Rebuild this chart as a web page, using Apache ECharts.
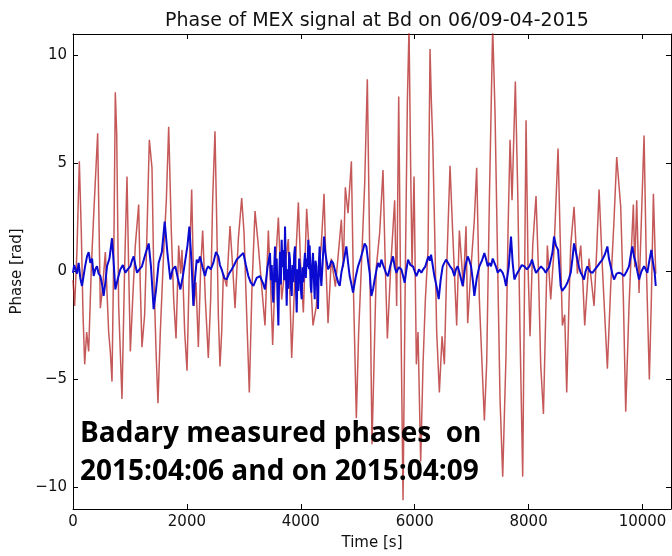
<!DOCTYPE html>
<html>
<head>
<meta charset="utf-8">
<title>Phase of MEX signal at Bd</title>
<script src="https://cdn.jsdelivr.net/npm/echarts@6/dist/echarts.min.js"></script>
<style>
  html, body { margin: 0; padding: 0; background: #fff; }
  #chart { width: 672px; height: 556px; }
</style>
</head>
<body>
<div id="chart"></div>
<script>
// tick values
const xTicks = [0, 2000, 4000, 6000, 8000, 10000]
const yTicks = [-10, -5, 0, 5, 10]

// 2015:04:06 scan, [time s, phase rad]
const redPhase = [
  [0,-0.4],[29,-1.6],[70,1.0],[111,5.1],[146,1.8],[176,-2.0],[205,-4.3],[240,-2.8],[275,-3.7],[322,0.2],
  [363,2.6],[433,6.4],[456,2.4],[480,-1.7],[521,-0.7],[568,0.9],[626,-2.8],[655,-3.7],[685,-5.1],[720,1.8],
  [743,8.3],[767,6.4],[802,-1.6],[860,-5.9],[907,0.2],[948,4.4],[977,0.2],[1007,-3.7],[1048,-1.3],[1094,1.2],
  [1153,3.1],[1182,-0.7],[1211,-3.5],[1258,-2.0],[1299,1.8],[1340,6.1],[1387,4.8],[1416,0.2],[1457,-3.6],[1492,-6.1],
  [1533,-2.8],[1592,0.9],[1639,3.3],[1680,6.7],[1727,1.8],[1768,-1.3],[1809,-3.1],[1855,1.2],[1890,-0.1],[1914,1.0],
  [1961,-2.8],[2002,-4.6],[2043,0.2],[2084,3.8],[2125,-1.6],[2160,-0.5],[2201,-3.5],[2242,0.2],[2277,1.9],[2324,-1.3],
  [2376,-4.0],[2417,-1.3],[2452,3.3],[2493,6.5],[2523,2.4],[2552,-2.0],[2581,-4.4],[2611,-2.8],[2640,-0.1],[2698,-0.7],
  [2757,2.1],[2804,0.2],[2845,-1.7],[2903,1.5],[2962,3.4],[3003,1.8],[3050,-2.0],[3096,-5.6],[3143,-0.7],[3196,2.8],
  [3254,1.2],[3313,-0.7],[3371,-2.5],[3430,1.9],[3471,-0.7],[3506,-3.4],[3553,0.2],[3606,2.5],[3664,-1.3],[3723,0.2],
  [3781,1.5],[3840,-4.0],[3898,-0.1],[3957,3.2],[3998,0.2],[4045,-1.9],[4103,2.9],[4162,0.2],[4214,-2.5],[4273,-1.6],
  [4314,-0.1],[4361,1.3],[4408,3.6],[4443,0.2],[4478,-2.4],[4536,0.6],[4607,-0.7],[4665,1.0],[4712,2.4],[4747,0.2],
  [4782,3.9],[4829,2.7],[4888,5.1],[4928,-1.3],[4975,-6.8],[5016,-2.8],[5063,0.2],[5122,4.1],[5168,8.9],[5209,1.0],
  [5250,-8.0],[5285,-4.3],[5326,0.2],[5385,1.8],[5443,4.7],[5484,0.2],[5520,-3.1],[5578,0.2],[5648,3.3],[5683,-1.6],
  [5719,8.1],[5754,-1.3],[5795,-10.6],[5836,0.2],[5871,7.9],[5900,11.3],[5929,4.8],[5953,0.2],[5988,4.4],[6029,-4.3],
  [6058,-2.8],[6105,-8.8],[6146,-4.3],[6187,-1.3],[6234,1.0],[6269,10.3],[6292,7.9],[6316,6.1],[6351,1.8],[6386,-2.8],
  [6433,-5.6],[6480,-3.0],[6521,-4.3],[6562,0.2],[6620,4.9],[6667,1.8],[6737,-2.5],[6784,1.9],[6854,-0.7],[6901,2.1],
  [6930,-2.4],[6989,0.2],[7047,2.4],[7088,4.8],[7135,-1.3],[7182,-4.3],[7223,-6.9],[7264,-4.2],[7311,3.3],[7369,11.3],
  [7410,7.4],[7457,0.2],[7498,-5.9],[7545,-9.5],[7603,-3.9],[7638,1.8],[7674,6.1],[7709,3.3],[7767,8.8],[7808,3.8],
  [7849,-2.8],[7896,-9.5],[7931,0.2],[7955,7.0],[7990,0.2],[8025,-3.0],[8072,1.2],[8130,3.5],[8171,0.2],[8212,-4.3],
  [8260,-6.6],[8329,1.2],[8388,-1.3],[8446,1.0],[8481,3.3],[8517,5.7],[8552,1.8],[8593,-2.5],[8634,-2.0],[8669,-5.6],
  [8710,-1.3],[8739,1.2],[8798,3.0],[8856,-0.1],[8915,1.2],[8956,-0.7],[8985,-2.5],[9061,0.6],[9149,-1.6],[9196,1.0],
  [9237,3.8],[9295,0.2],[9336,-2.0],[9383,-4.5],[9441,-0.7],[9500,2.4],[9547,5.3],[9617,3.0],[9664,-1.3],[9705,-6.5],
  [9763,-1.6],[9804,1.0],[9839,3.1],[9863,0.2],[9898,3.3],[9939,-1.0],[9980,2.4],[10027,6.3],[10068,0.2],[10120,-5.0],
  [10155,-1.3],[10191,3.6],[10232,-0.1]
]

// 2015:04:09 scan, [time s, phase rad]
const bluePhase = [
  [0,-0.06],[20,0.3],[41,0.24],[70,-0.1],[99,0.4],[128,-0.3],[158,-0.67],[180,-0.3],[210,0.2],[246,0.7],
  [275,0.9],[304,0.4],[335,0.6],[363,-0.21],[392,0.1],[421,0.24],[450,-0.1],[480,-0.21],[510,-0.6],[538,-1.13],
  [568,-0.5],[597,0.24],[640,0.6],[685,1.54],[712,0.5],[743,-0.83],[790,-0.3],[831,0.09],[875,0.3],[919,-0.06],
  [960,0.1],[1007,0.24],[1035,0.5],[1065,0.7],[1095,0.3],[1124,-0.06],[1165,0.1],[1211,0.24],[1270,0.8],[1329,1.3],
  [1370,0.2],[1416,-1.74],[1460,-0.8],[1504,0.4],[1560,0.9],[1610,2.31],[1660,0.8],[1709,-0.37],[1750,0.1],[1797,0.24],
  [1840,-0.3],[1885,-0.83],[1930,-0.2],[1973,0.55],[2010,1.2],[2043,2.08],[2080,0.5],[2113,-1.59],[2140,-0.4],[2172,0.55],
  [2200,0.4],[2230,0.7],[2275,0.2],[2318,-0.21],[2345,0.1],[2376,0.24],[2420,0.1],[2464,0.4],[2510,0.9],[2552,0.7],
  [2580,0.3],[2611,0.09],[2655,-0.3],[2698,-0.37],[2740,-0.1],[2786,0.09],[2830,0.3],[2874,0.55],[2930,0.7],[2991,0.86],
  [3035,0.3],[3079,-0.21],[3120,-0.5],[3167,-0.67],[3225,-0.3],[3284,-0.21],[3330,-0.5],[3371,-0.83],[3415,0.2],[3459,0.86],
  [3475,-0.4],[3490,0.3],[3504,-1.0],[3518,-1.44],[3533,0.2],[3547,1.16],[3562,-0.5],[3577,0.6],[3591,-1.2],[3606,-2.5],
  [3620,-0.3],[3635,0.9],[3650,-0.6],[3664,1.47],[3679,0.2],[3694,1.0],[3708,-0.4],[3723,2.08],[3737,0.3],[3752,-1.59],
  [3766,0.1],[3781,-0.8],[3796,0.9],[3810,0.55],[3825,-0.7],[3840,-1.13],[3854,0.3],[3869,-0.5],[3884,0.8],[3898,1.16],
  [3913,-0.6],[3928,-1.9],[3942,0.1],[3957,-0.9],[3971,0.6],[3986,0.24],[4000,-0.8],[4015,-1.28],[4030,0.2],[4045,-0.5],
  [4060,0.4],[4074,0.86],[4088,-0.3],[4103,0.6],[4117,0.2],[4132,1.47],[4145,0.1],[4156,1.2],[4173,-0.67],[4185,-0.98],
  [4200,0.3],[4214,0.86],[4230,-0.4],[4244,-1.28],[4258,0.5],[4273,0.24],[4288,-0.9],[4302,-1.74],[4317,0.4],[4331,1.16],
  [4346,-0.1],[4361,-0.67],[4385,0.5],[4408,1.62],[4430,0.9],[4449,0.55],[4478,0.1],[4507,0.24],[4536,0.5],[4566,0.4],
  [4595,0.1],[4624,-0.21],[4655,-0.5],[4683,-0.67],[4712,-0.06],[4755,0.5],[4800,1.16],[4830,0.4],[4858,-0.21],[4890,-0.6],
  [4917,-0.98],[4960,-0.3],[5005,0.24],[5050,0.6],[5092,1.0],[5120,1.3],[5151,1.16],[5180,0.5],[5209,-0.06],[5239,-1.13],
  [5270,-0.8],[5297,-0.37],[5330,0.1],[5356,0.4],[5385,0.2],[5414,0.55],[5445,0.3],[5473,0.24],[5500,-0.1],[5531,-0.21],
  [5575,0.3],[5619,0.7],[5650,0.2],[5678,-0.06],[5720,0.2],[5766,0.09],[5795,-0.2],[5824,-0.52],[5855,0.1],[5883,0.55],
  [5925,0.3],[5970,0.24],[6000,0.0],[6029,-0.21],[6075,0.1],[6117,-0.06],[6150,0.1],[6187,0.24],[6215,0.5],[6245,0.7],
  [6265,0.5],[6287,0.78],[6315,0.3],[6345,-0.21],[6385,-0.7],[6421,-1.28],[6455,-0.4],[6491,0.24],[6520,0.4],[6550,0.55],
  [6585,0.6],[6620,0.24],[6660,0.1],[6696,-0.21],[6725,0.1],[6755,0.24],[6800,-0.2],[6843,-0.67],[6885,0.2],[6930,0.7],
  [6960,0.5],[6989,0.24],[7020,-0.4],[7047,-1.13],[7090,-0.3],[7135,0.24],[7180,0.5],[7223,0.86],[7250,0.6],[7282,0.24],
  [7310,0.4],[7340,0.24],[7370,0.6],[7399,0.55],[7430,0.2],[7457,-0.06],[7500,0.1],[7545,-0.06],[7575,-0.3],[7603,-0.67],
  [7650,0.2],[7691,1.62],[7720,0.4],[7750,-0.37],[7795,-0.1],[7838,0.09],[7880,0.3],[7925,0.24],[7970,0.1],[8013,0.24],
  [8040,0.4],[8060,0.55],[8095,0.2],[8130,-0.06],[8175,0.1],[8218,0.24],[8265,0.1],[8300,-0.06],[8329,0.09],[8360,0.2],
  [8388,0.24],[8420,0.9],[8446,1.62],[8480,1.2],[8517,1.0],[8540,0.2],[8563,-0.67],[8590,-0.9],[8610,-0.98],[8645,-0.7],
  [8681,-0.52],[8710,-0.3],[8739,-0.06],[8770,0.6],[8798,1.3],[8830,0.9],[8856,0.55],[8885,0.2],[8915,-0.06],[8945,-0.2],
  [8973,-0.37],[9000,0.0],[9032,0.24],[9075,0.0],[9120,-0.06],[9165,0.1],[9207,0.24],[9250,0.4],[9295,0.55],[9340,0.8],
  [9383,1.16],[9410,0.6],[9441,0.24],[9470,-0.1],[9500,-0.37],[9545,-0.1],[9588,-0.06],[9630,-0.1],[9676,-0.21],[9720,0.0],
  [9763,0.24],[9790,0.7],[9822,1.16],[9850,0.7],[9881,0.4],[9910,0.0],[9939,-0.37],[9980,0.0],[10027,0.24],[10055,0.1],
  [10085,-0.06],[10120,0.5],[10155,1.0],[10185,0.4],[10214,-0.06],[10232,-0.67]
]

const chart = echarts.init(document.getElementById('chart'))

const font = '"DejaVu Sans", sans-serif'
const minus = v => String(v).replace('-', '\u2212')

// matplotlib classic look: box with inward ticks on every side
const frame = (pos, ticks, extra) => Object.assign({
  type: 'value',
  position: pos,
  axisLine: { show: true, onZero: false, lineStyle: { color: '#000', width: 1 } },
  axisTick: { show: true, inside: true, length: 5, customValues: ticks, lineStyle: { color: '#000' } },
  axisLabel: { show: false },
  splitLine: { show: false }
}, extra)

const option = {
  animation: false,
  backgroundColor: '#fff',
  title: {
    text: 'Phase of MEX signal at Bd on 06/09-04-2015',
    left: 372,
    textAlign: 'center',
    top: 7,
    textStyle: { fontFamily: font, fontSize: 19, fontWeight: 'normal', color: '#111' }
  },
  grid: { left: 73, right: 1, top: 34, bottom: 43 },
  xAxis: [
    frame('bottom', xTicks, {
      min: 0, max: 10500,
      name: 'Time [s]', nameLocation: 'middle', nameGap: 27,
      nameTextStyle: { fontFamily: font, fontSize: 15, color: '#111' },
      axisLabel: { show: true, customValues: xTicks, margin: 6, fontFamily: font, fontSize: 15, color: '#111', formatter: v => String(v) }
    }),
    frame('top', xTicks, { min: 0, max: 10500 })
  ],
  yAxis: [
    frame('left', yTicks, {
      min: -11, max: 11,
      name: 'Phase [rad]', nameLocation: 'middle', nameGap: 44,
      nameTextStyle: { fontFamily: font, fontSize: 15, color: '#111' },
      axisLabel: { show: true, customValues: yTicks, margin: 6, fontFamily: font, fontSize: 15, color: '#111', formatter: minus }
    }),
    frame('right', yTicks, { min: -11, max: 11 })
  ],
  graphic: [{
    type: 'text',
    left: 80,
    top: 415,
    z: 100,
    style: {
      text: 'Badary measured phases  on\n2015:04:06 and on 2015:04:09',
      font: 'bold 28px "Open Sans", sans-serif',
      lineHeight: 38,
      fill: '#000'
    }
  }],
  series: [
    {
      type: 'line',
      data: redPhase,
      showSymbol: false,
      clip: true,
      lineStyle: { color: '#b22222', width: 1.5, opacity: 0.75 }
    },
    {
      type: 'line',
      data: bluePhase,
      showSymbol: false,
      clip: true,
      lineStyle: { color: '#0a0ad0', width: 2 }
    }
  ]
}

chart.setOption(option)
</script>
</body>
</html>
